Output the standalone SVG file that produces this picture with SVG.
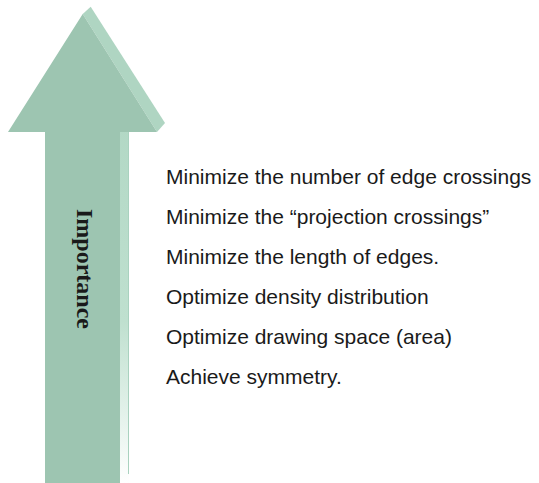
<svg xmlns="http://www.w3.org/2000/svg" width="539" height="483" viewBox="0 0 539 483">
  <defs>
    <linearGradient id="sideFade" x1="0" y1="0" x2="0" y2="1">
      <stop offset="0" stop-color="#b2d8c5"/>
      <stop offset="0.55" stop-color="#bfe0cf"/>
      <stop offset="1" stop-color="#ffffff"/>
    </linearGradient>
    <style>
      .front { fill: #9dc5b1; }
      .side { fill: #afd5c2; }
      .item { font-family: "Liberation Sans", Arial, sans-serif; font-size: 21px; fill: #1a1a1a; }
      .axis { font-family: "Liberation Serif", "Times New Roman", serif; font-size: 24px; font-weight: bold; fill: #1a1a1a; }
    </style>
  </defs>
  <rect width="539" height="483" fill="#ffffff"/>

  <!-- 3D arrow pointing up -->
  <g id="importance-arrow">
    <!-- right side face of the shaft -->
    <polygon points="120,131 127,124 129,124 129,483 120,483" fill="url(#sideFade)"/>
    <line x1="128.5" y1="130" x2="128.5" y2="474" stroke="#a9d2bf" stroke-width="1"/>
    <!-- side face of the head -->
    <polygon class="side" points="82.7,14 90.7,6.7 165,123 157,132"/>
    <!-- front face -->
    <polygon class="front" points="82.7,14 157,132 120,132 120,483 45,483 45,132 8,132"/>
    <text class="axis" transform="translate(77,269) rotate(90)" text-anchor="middle">Importance</text>
  </g>

  <!-- criteria list -->
  <g id="criteria">
    <text class="item" x="166" y="184">Minimize the number of edge crossings</text>
    <text class="item" x="166" y="224">Minimize the “projection crossings”</text>
    <text class="item" x="166" y="264">Minimize the length of edges.</text>
    <text class="item" x="166" y="304">Optimize density distribution</text>
    <text class="item" x="166" y="344">Optimize drawing space (area)</text>
    <text class="item" x="166" y="384">Achieve symmetry.</text>
  </g>
</svg>
